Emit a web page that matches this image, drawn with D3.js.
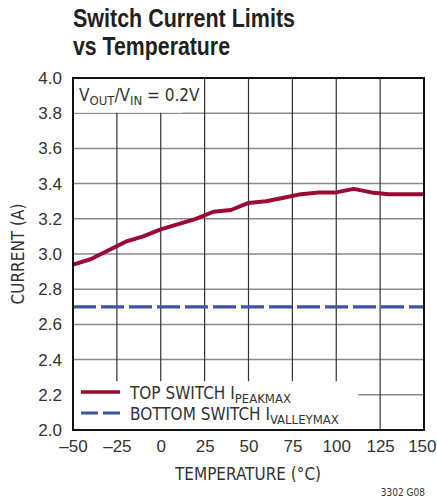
<!DOCTYPE html>
<html>
<head>
<meta charset="utf-8">
<script src="https://cdn.jsdelivr.net/npm/d3@7"></script>
<style>
  body { margin: 0; background: #fff; }
  svg { font-family: "Liberation Sans Narrow", "DejaVu Sans Condensed", "Liberation Sans", sans-serif; }
</style>
</head>
<body>
<script>
// data
var temps = [-50, -40, -30, -20, -10, 0, 10, 20, 30, 40, 50, 60, 70, 80, 90, 100, 110, 120, 130, 140, 150];
var topSwitch = [2.94, 2.97, 3.02, 3.07, 3.10, 3.14, 3.17, 3.20, 3.24, 3.25, 3.29, 3.30, 3.32, 3.34, 3.35, 3.35, 3.37, 3.35, 3.34, 3.34, 3.34];
var bottomSwitch = [2.70, 2.70];
var bottomTemps = [-50, 150];
var xTicks = [-50, -25, 0, 25, 50, 75, 100, 125, 150];
var yTicks = [2.0, 2.2, 2.4, 2.6, 2.8, 3.0, 3.2, 3.4, 3.6, 3.8, 4.0];

var svgWidth = 437, svgHeight = 501;
var margin = { top: 78, left: 73, right: 13, bottom: 71 };
var width = svgWidth - margin.left - margin.right;
var height = svgHeight - margin.top - margin.bottom;

var svg = d3.select("body").append("svg")
  .attr("width", svgWidth)
  .attr("height", svgHeight);

// title (condensed bold, squeezed to the reference width)
var title = svg.append("text")
  .attr("font-family", "'Liberation Sans', Arial, sans-serif")
  .attr("font-weight", "bold")
  .attr("font-size", 25)
  .attr("fill", "#231f20");
title.append("tspan").attr("x", 73).attr("y", 27)
  .attr("textLength", 222).attr("lengthAdjust", "spacingAndGlyphs")
  .text("Switch Current Limits");
title.append("tspan").attr("x", 73).attr("y", 55)
  .attr("textLength", 157).attr("lengthAdjust", "spacingAndGlyphs")
  .text("vs Temperature");

var g = svg.append("g").attr("transform", `translate(${margin.left},${margin.top})`);

var x = d3.scaleLinear().domain([-50, 150]).range([0, width]);
var y = d3.scaleLinear().domain([2.0, 4.0]).range([height, 0]);

// grid
g.append("g").selectAll("line")
  .data(yTicks.slice(1, -1))
  .enter().append("line")
  .attr("x1", 0).attr("x2", width)
  .attr("y1", d => y(d)).attr("y2", d => y(d))
  .attr("stroke", "#8a8a8a").attr("stroke-width", 1.5);

g.append("g").selectAll("line")
  .data(xTicks.slice(1, -1))
  .enter().append("line")
  .attr("x1", d => x(d)).attr("x2", d => x(d))
  .attr("y1", 0).attr("y2", height)
  .attr("stroke", "#333").attr("stroke-width", 1.2);

// white boxes behind the label and the legend
g.append("rect")
  .attr("x", 1).attr("y", 1)
  .attr("width", x(12) - x(-50)).attr("height", y(3.8) - 1.5)
  .attr("fill", "#fff");
g.append("rect")
  .attr("x", 1).attr("y", y(2.3) + 4)
  .attr("width", x(112) - x(-50)).attr("height", height - y(2.3) - 4)
  .attr("fill", "#fff");

// series
var line = d3.line().x(d => x(d[0])).y(d => y(d[1]));

g.append("path")
  .datum(bottomTemps.map((t, i) => [t, bottomSwitch[i]]))
  .attr("d", line)
  .attr("fill", "none")
  .attr("stroke", "#3d55a8")
  .attr("stroke-width", 3.2)
  .attr("stroke-dasharray", "23,5");

g.append("path")
  .datum(temps.map((t, i) => [t, topSwitch[i]]))
  .attr("d", line)
  .attr("fill", "none")
  .attr("stroke", "#9b0a30")
  .attr("stroke-width", 4)
  .attr("stroke-linejoin", "round");

// frame
g.append("rect")
  .attr("width", width).attr("height", height)
  .attr("fill", "none").attr("stroke", "#111").attr("stroke-width", 2);

// axes (labels only)
var xAxis = d3.axisBottom(x).tickValues(xTicks).tickSize(0).tickPadding(10)
  .tickFormat(d => d < 0 ? "\u2013" + Math.abs(d) : d);
var yAxis = d3.axisLeft(y).tickValues(yTicks).tickSize(0).tickPadding(11)
  .tickFormat(d3.format(".1f"));

var xa = g.append("g").attr("transform", `translate(0,${height})`).call(xAxis)
  .call(a => a.select(".domain").remove());
xa.selectAll("text").attr("font-size", 17).attr("fill", "#333").attr("font-family", null);
// keep the last label inside the page
xa.selectAll("text").filter(d => d === 150)
  .attr("text-anchor", "end").attr("x", svgWidth - margin.left - 1 - x(150) + 0);

g.append("g").call(yAxis)
  .call(a => a.select(".domain").remove())
  .selectAll("text").attr("font-size", 17).attr("fill", "#333").attr("font-family", null);

// axis titles
svg.append("text")
  .attr("x", 248).attr("y", 480)
  .attr("text-anchor", "middle")
  .attr("font-size", 17).attr("fill", "#333")
  .text("TEMPERATURE (\u00B0C)");
svg.append("text")
  .attr("transform", "translate(24,254) rotate(-90)")
  .attr("text-anchor", "middle")
  .attr("font-size", 17).attr("fill", "#333")
  .text("CURRENT (A)");

// condition label
var cond = svg.append("text")
  .attr("x", 79).attr("y", 101)
  .attr("font-size", 17).attr("fill", "#333");
cond.append("tspan").text("V");
cond.append("tspan").attr("font-size", 13).attr("dy", 4).text("OUT");
cond.append("tspan").attr("dy", -4).text("/V");
cond.append("tspan").attr("font-size", 13).attr("dy", 4).text("IN");
cond.append("tspan").attr("dy", -4).text(" = 0.2V");

// legend
var legend = svg.append("g");
legend.append("line")
  .attr("x1", 81).attr("x2", 120).attr("y1", 392).attr("y2", 392)
  .attr("stroke", "#9b0a30").attr("stroke-width", 3.5);
legend.append("line")
  .attr("x1", 81).attr("x2", 120).attr("y1", 413).attr("y2", 413)
  .attr("stroke", "#3d55a8").attr("stroke-width", 3.2)
  .attr("stroke-dasharray", "17,5");

var l1 = legend.append("text").attr("x", 130).attr("y", 399)
  .attr("font-size", 17).attr("fill", "#333");
l1.append("tspan").text("TOP SWITCH I");
l1.append("tspan").attr("font-size", 13).attr("dy", 4).text("PEAKMAX");

var l2 = legend.append("text").attr("x", 130).attr("y", 420)
  .attr("font-size", 17).attr("fill", "#333");
l2.append("tspan").text("BOTTOM SWITCH I");
l2.append("tspan").attr("font-size", 13).attr("dy", 4).text("VALLEYMAX");

svg.append("text")
  .attr("x", 425).attr("y", 496)
  .attr("text-anchor", "end")
  .attr("font-size", 10).attr("fill", "#333")
  .text("3302 G08");
</script>
</body>
</html>
